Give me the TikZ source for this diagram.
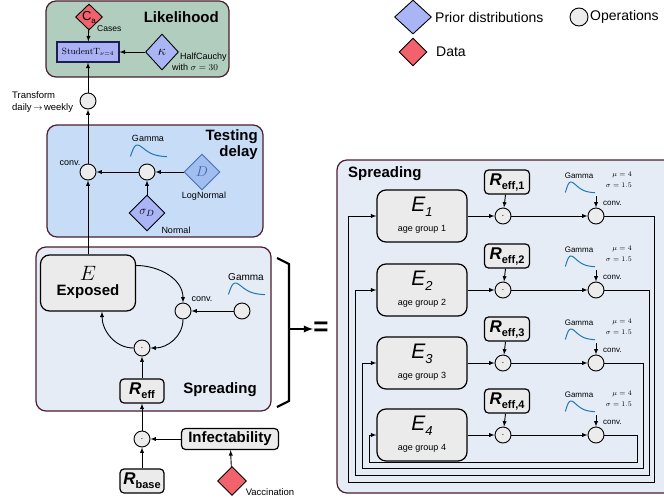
\documentclass[tikz,border=0pt]{standalone}
\usepackage[no-math]{fontspec}
\setmainfont{Liberation Sans}
\usetikzlibrary{shapes.geometric,arrows,positioning}
\definecolor{panelborder}{RGB}{75,30,45}
\definecolor{likegreen}{RGB}{177,205,190}
\definecolor{testblue}{RGB}{199,220,247}
\definecolor{spreadgray}{RGB}{229,236,246}
\definecolor{opgray}{RGB}{236,236,236}
\definecolor{boxgray}{RGB}{235,235,235}
\definecolor{priorblue}{RGB}{170,181,245}
\definecolor{datared}{RGB}{242,98,108}
\definecolor{gammablue}{RGB}{31,119,180}
\definecolor{studblue}{RGB}{170,178,245}
\definecolor{studborder}{RGB}{30,30,80}
\definecolor{dblue}{RGB}{160,190,240}
\definecolor{dborder}{RGB}{75,110,175}
\definecolor{dtext}{RGB}{70,100,170}
\newcommand{\fsz}[1]{\fontsize{#1}{#1}\selectfont}
\newcommand{\Rsub}[1]{{\fsz{17}\bfseries\itshape R}\raisebox{-4pt}{\fsz{11}\bfseries #1}}
\newcommand{\gammacurve}[4]{\draw[gammaline] plot[domain=0.01:1, samples=40, smooth] ({#1+#3*\x}, {#2+#4*(\x/0.2)^1.5*exp(1.5*(1-\x/0.2))});}

\begin{document}
\begin{tikzpicture}[x=1pt,y=1pt,>=latex]
\tikzstyle{panel}=[draw=panelborder, line width=1.2pt, rounded corners=10pt]
\tikzstyle{op}=[circle, draw=black, fill=opgray, line width=0.9pt, minimum size=16pt, inner sep=0pt]
\tikzstyle{prior}=[diamond, draw=black, fill=priorblue, line width=0.9pt, inner sep=0pt]
\tikzstyle{datum}=[diamond, draw=black, fill=datared, line width=0.9pt, inner sep=0pt]
\tikzstyle{state}=[rectangle, rounded corners=9pt, draw=black, fill=boxgray, line width=1.2pt]
\tikzstyle{param}=[rectangle, rounded corners=4pt, draw=black, fill=boxgray, line width=1.2pt,
	minimum width=44pt, minimum height=24pt, inner sep=0pt]
\tikzstyle{title}=[font=\fontsize{15}{16}\selectfont\bfseries, inner sep=0pt]
\tikzstyle{small}=[font=\fsz{9}, inner sep=0pt]
\tikzstyle{tiny}=[font=\fsz{8}, inner sep=0pt]
\tikzstyle{legend}=[font=\fsz{14}, inner sep=0pt, anchor=west]
\tikzstyle{conn}=[->, line width=0.9pt]
\tikzstyle{gammaline}=[draw=gammablue, line width=1pt]
\useasboundingbox (0,0) rectangle (664,-501);
\clip (0,0) rectangle (664,-501);

\node[prior, minimum width=37pt, minimum height=34pt] (legprior) at (413,-17) {};
\node[legend] (legpriortext) at (435,-17) {Prior distributions};
\node[op, minimum size=18pt] (legop) at (579,-17) {};
\node[legend] (legoptext) at (590,-17) {Operations};
\node[datum, minimum width=28pt, minimum height=28pt] (legdata) at (413,-52) {};
\node[legend] (legdatatext) at (436,-52) {Data};

\draw[panel, fill=likegreen] (46,-1) rectangle (229,-77);
\node[title, anchor=east] (liketitle) at (219,-17) {Likelihood};
\node[datum, minimum width=27pt, minimum height=26pt] (ca) at (89,-17) {\fsz{13}C\raisebox{-3pt}{\fsz{8}a}};
\node[tiny, font=\fsz{8.5}, anchor=west] (casestext) at (97,-29) {Cases};
\node[draw=studborder, fill=studblue, line width=1.2pt, minimum width=62pt, minimum height=20pt,
	inner sep=0pt] (studt) at (88,-52) {\fsz{9}$\mathrm{StudentT}_{\nu=4}$};
\node[prior, minimum width=33pt, minimum height=36pt] (kappa) at (162,-52) {\fsz{15}$\kappa$};
\node[small, anchor=west] (hcname) at (180,-57) {HalfCauchy};
\node[small, anchor=west] (hcwith) at (172,-67) {with $\sigma=30$};
\path[conn] (ca) edge (studt);
\path[conn] (kappa) edge (studt);

\node[op] (trans) at (88,-101) {};
\node[small, font=\fontsize{9.5}{12}\selectfont, align=left, anchor=west] (transtext) at (12,-102)
	{Transform\\daily$\,\rightarrow\,$weekly};
\path[conn] (trans) edge (studt);

\draw[panel, fill=testblue] (47,-125) rectangle (263,-237);
\node[title, align=right, anchor=east] (testtitle) at (258,-145) {Testing\\delay};
\node[small] (tgamtext) at (148,-138) {Gamma};
\gammacurve{130}{-157}{37}{12}
\node[op] (tconv) at (88,-172) {};
\node[small] (tconvtext) at (70,-163) {conv.};
\node[op] (top) at (147,-172) {};
\node[diamond, draw=dborder, fill=dblue, line width=0.9pt, inner sep=0pt, minimum size=36pt,
	text=dtext] (dprior) at (202,-172) {\fsz{15}$D$};
\node[small] (dtext) at (204,-196) {LogNormal};
\node[prior, minimum size=36pt] (sigd) at (147,-213) {\fsz{13}$\sigma_D$};
\node[small] (sigdtext) at (176,-230) {Normal};
\path[conn] (top) edge (tconv);
\path[conn] (dprior) edge (top);
\path[conn] (sigd) edge (top);
\path[conn] (tconv) edge (trans);

\draw[panel, fill=spreadgray] (36,-247) rectangle (271,-411);
\node[state, minimum width=95pt, minimum height=56pt] (expo) at (88,-283) {};
\node[font=\fsz{20}, inner sep=0pt] (expoe) at ([yshift=10pt]expo.center) {$E$};
\node[title] (expotext) at ([yshift=-9pt]expo.center) {Exposed};
\node[op] (sconv) at (183,-311) {};
\node[small] (sconvtext) at (202,-299) {conv.};
\node[op] (sgam) at (242,-311) {};
\node[small, font=\fsz{10}] (sgamtext) at (246,-277) {Gamma};
\gammacurve{228}{-295}{37}{12}
\node[op] (sdot) at (142,-348) {$\cdot$};
\node[param] (reff) at (142,-391) {\Rsub{eff}};
\node[title] (spreadtitle) at (220,-390) {Spreading};
\path[conn] (expo.20) edge[out=0,in=90] (sconv);
\path[conn] (sconv) edge[out=-90,in=0] (sdot);
\path[conn] (sdot) edge[out=180,in=-90] ([xshift=14pt]expo.south);
\path[conn] (sgam) edge (sconv);
\path[conn] (reff) edge (sdot);
\path[conn] (expo) edge (tconv);

\node[op] (rdot) at (142,-439) {$\cdot$};
\node[param, minimum width=97pt, minimum height=21pt, font=\fsz{15}\bfseries] (infect) at (230,-439) {Infectability};
\node[param] (rbase) at (142,-481) {\Rsub{base}};
\node[datum, minimum size=29pt] (vacc) at (232,-481) {};
\node[small, font=\fsz{9.5}] (vacctext) at (270,-492) {Vaccination};
\path[conn] (rdot) edge (reff);
\path[conn] (infect) edge (rdot);
\path[conn] (rbase) edge (rdot);
\path[conn] (vacc) edge (infect);

\draw[line width=2.2pt] (277,-258) -- (289,-264) -- (289,-401) -- (277,-407);
\coordinate (bracetip) at (289,-329);
\node[font=\fsz{26}\bfseries, inner sep=0pt] (eq) at (321,-329) {=};
\draw[->, line width=2.2pt] (bracetip) -- (eq);

\draw[panel, fill=spreadgray] (337,-160) rectangle (690,-493);
\node[title, anchor=west] (rspreadtitle) at (348,-174) {Spreading};
\foreach \i/\y/\xl/\xr/\yb in {1/216/348/654/482, 2/290/355/649/475, 3/363/362/643/468, 4/435/369/637/462} {
	\node[state, minimum width=90pt, minimum height=52pt] (E\i) at (422,-\y) {};
	\node[font=\fsz{21}\itshape, inner sep=0pt] (Elab\i) at ([yshift=9pt]E\i.center) {E\raisebox{-5pt}{\fsz{13}\i}};
	\node[small] (Eage\i) at ([yshift=-13pt]E\i.center) {age group \i};
	\node[op] (dot\i) at (503,-\y) {$\cdot$};
	\node[param, minimum width=45pt] (reff\i) at (507,-\y+34) {\Rsub{eff,\i}};
	\node[op] (cv\i) at (596,-\y) {};
	\node[tiny] (gam\i) at (579,-\y+40) {Gamma};
	\node[inner sep=0pt, anchor=east, font=\fsz{7.5}] (mu\i) at (632,-\y+41) {$\mu=4$};
	\node[inner sep=0pt, anchor=east, font=\fsz{7.5}] (sig\i) at (632,-\y+31) {$\sigma=1.5$};
	\node[tiny, anchor=west] (cvtext\i) at (603,-\y+13) {conv.};
	\gammacurve{565}{-\y+23}{30}{11}
	\coordinate (gin\i) at (596,-\y+20);
	\path[conn] (E\i) edge (dot\i);
	\path[conn] (dot\i) edge (cv\i);
	\path[conn] (reff\i) edge (dot\i);
	\path[conn] (gin\i) edge (cv\i);
	\draw[conn] (cv\i) -| (\xr,-\yb) -| (\xl,-\y) -- (E\i);
}
\end{tikzpicture}
\end{document}
